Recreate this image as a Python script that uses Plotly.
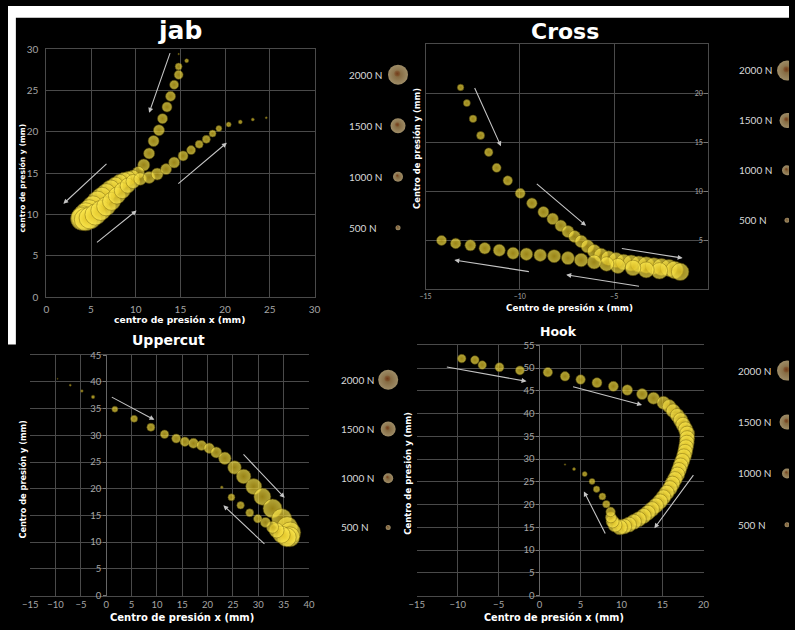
import plotly.graph_objects as go

W, H = 795, 630

# ---------------- data: centre of pressure (mm) and force (N) per sample ----------------
JAB_X = [14.8, 15.7, 14.8, 14.8, 14.3, 13.9, 13.5, 13.0, 12.6, 12.0, 11.5, 10.9, 10.3,
         9.7, 9.2, 8.7, 8.2, 7.7, 7.2, 6.7, 6.2, 5.7, 5.2, 4.8, 4.4, 4.1, 4.0,
         4.4, 4.9, 5.5, 6.1, 6.7, 7.3, 7.9, 8.5, 9.1, 9.7,
         10.5, 11.5, 12.4, 13.4, 14.3, 15.3, 16.2, 17.1, 17.9, 18.6, 19.3, 20.4, 21.7, 23.1, 24.6]
JAB_Y = [29.4, 28.6, 27.9, 26.9, 25.7, 24.3, 23.0, 21.6, 20.2, 18.9, 17.4, 16.0, 15.1,
         14.6, 14.4, 14.2, 13.9, 13.5, 13.1, 12.6, 12.1, 11.6, 11.0, 10.5, 10.1, 9.7, 9.5,
         9.4, 9.6, 10.0, 10.5, 11.0, 11.6, 12.3, 12.9, 13.5, 14.0,
         14.3, 14.5, 14.9, 15.5, 16.3, 17.1, 17.8, 18.5, 19.1, 19.8, 20.4, 20.9, 21.2, 21.5, 21.7]
JAB_F = [150, 400, 700, 900, 900, 1000, 1000, 1000, 1100, 1100, 1100, 1200, 1200,
         1300, 1400, 1500, 1600, 1700, 1800, 1900, 2000, 2050, 2100, 2150, 2200, 2250, 2300,
         2250, 2200, 2100, 2000, 1900, 1800, 1700, 1600, 1500, 1400,
         1250, 1200, 1200, 1100, 1100, 1000, 900, 800, 800, 700, 600, 500, 400, 300, 200]

CROSS_X = [-13.14, -12.81, -12.48, -12.08, -11.65, -11.23, -10.64, -9.98, -9.36, -8.75, -8.26,
           -7.83, -7.45, -7.10, -6.75, -6.41, -6.06,
           -5.7, -5.3, -4.9, -4.5, -4.1, -3.7, -3.3, -2.9, -2.5, -2.1, -1.8, -1.5,
           -2.6, -3.3, -4.0, -4.8, -5.4, -6.06, -6.75, -7.45, -8.18, -8.92, -9.65, -10.36,
           -11.09, -11.86, -12.62, -13.4, -14.15]
CROSS_Y = [20.6, 19.0, 17.4, 15.7, 14.0, 12.4, 11.1, 9.8, 8.8, 7.9, 7.2, 6.5, 5.9, 5.4, 4.9, 4.4, 3.9,
           3.5, 3.2, 3.0, 2.8, 2.7, 2.6, 2.5, 2.4, 2.3, 2.2, 2.0, 1.8,
           1.9, 2.0, 2.2, 2.4, 2.6, 2.8, 3.0, 3.2, 3.4, 3.5, 3.6, 3.7, 4.0, 4.2, 4.5, 4.7, 5.0]
CROSS_F = [650, 700, 750, 800, 850, 900, 950, 1000, 1050, 1100, 1150, 1150, 1200, 1200, 1250, 1300, 1350,
           1400, 1450, 1500, 1550, 1600, 1600, 1650, 1650, 1700, 1700, 1750, 1750,
           1650, 1600, 1550, 1500, 1450, 1400, 1350, 1300, 1300, 1250, 1250, 1200, 1200, 1150,
           1100, 1050, 1000]

UPPERCUT_X = [-9.6, -7.1, -4.8, -2.6, 1.7, 5.5, 8.8, 11.5, 13.8, 15.5, 17.2, 18.8, 20.3, 21.7, 23.4,
              25.3, 27.1, 29.1, 30.8, 32.8, 34.6, 35.7, 36.3, 36.2, 35.6, 34.6,
              33.6, 32.8, 31.4, 29.9, 28.3, 26.5, 24.7, 22.8]
UPPERCUT_Y = [40.6, 39.4, 38.3, 37.2, 34.9, 33.1, 31.5, 30.2, 29.4, 28.8, 28.5, 28.1, 27.6, 26.8, 25.7,
              24.0, 22.3, 20.4, 18.5, 16.3, 14.4, 12.8, 11.8, 11.0, 10.9, 11.4,
              12.2, 12.8, 13.7, 14.4, 15.5, 16.9, 18.4, 20.3]
UPPERCUT_F = [100, 200, 250, 350, 600, 700, 800, 850, 900, 950, 1000, 1000, 1050, 1100, 1250,
              1350, 1450, 1600, 1700, 1900, 2000, 2100, 2100, 2000, 1900, 1700,
              1500, 1200, 1000, 850, 800, 750, 700, 250]

HOOK_X = [-9.5, -7.9, -7.0, -4.9, -2.4, 1.0, 3.1, 5.0, 7.0, 9.0, 10.7, 12.5, 13.9, 15.1,
          15.8, 16.3, 16.8, 17.2, 17.5, 17.8, 18.0, 18.0, 17.95, 17.85, 17.75, 17.6, 17.4, 17.2,
          17.0, 16.8, 16.5, 16.2, 15.9, 15.5, 15.1, 14.7, 14.2, 13.7, 13.2, 12.7, 12.1, 11.5,
          10.9, 10.3, 9.8,
          9.2, 8.9, 8.7, 8.66, 8.14, 7.66, 6.95, 6.4, 5.5, 4.2, 3.1]
HOOK_Y = [52.1, 51.8, 50.7, 50.2, 49.5, 49.1, 48.2, 47.5, 46.8, 46.0, 45.2, 44.3, 43.4, 42.4,
          41.6, 40.6, 39.6, 38.6, 37.6, 36.6, 35.6, 34.6, 33.6, 32.6, 31.6, 30.6, 29.6, 28.6,
          27.6, 26.6, 25.6, 24.6, 23.6, 22.6, 21.6, 20.7, 19.8, 19.0, 18.2, 17.5, 16.8, 16.2,
          15.6, 15.2, 15.0,
          15.5, 16.3, 17.2, 18.4, 20.1, 21.8, 23.4, 25.1, 26.7, 27.8, 28.8]
HOOK_F = [850, 850, 850, 900, 900, 950, 950, 950, 1000, 1000, 1050, 1100, 1200, 1300,
          1350, 1400, 1400, 1450, 1450, 1450, 1500, 1500, 1500, 1500, 1500, 1500, 1500, 1500,
          1500, 1500, 1500, 1500, 1500, 1500, 1500, 1500, 1500, 1500, 1500, 1500, 1500, 1500,
          1500, 1500, 1500,
          1400, 1300, 1100, 950, 750, 700, 650, 600, 500, 300, 150]

LEGEND_FORCES = [2000, 1500, 1000, 500]
LEGEND_LABELS = ["2000 N", "1500 N", "1000 N", "500 N"]

PANEL_TITLES = ["jab", "Cross", "Uppercut", "Hook"]
X_TITLES = ["centro de presión x (mm)", "Centro de presión x (mm)",
            "Centro de presión x (mm)", "Centro de presión x (mm)"]
Y_TITLES = ["centro de presión y (mm)", "Centro de presión y (mm)",
            "Centro de presión y (mm)", "Centro de presión y (mm)"]

# direction arrows per panel: (tail, head) in data units
JAB_ARROWS = [((13.9, 29.7), (11.5, 22.3)), ((6.9, 16.3), (1.9, 11.3)),
              ((5.5, 6.5), (10.1, 10.5)), ((14.6, 13.6), (20.2, 18.7))]
CROSS_ARROWS = [((-12.43, 20.7), (-11.0, 14.6)), ((-9.18, 10.9), (-6.49, 6.5)),
                ((-4.67, 4.2), (-1.37, 3.2)), ((-9.44, 1.8), (-13.47, 3.0)),
                ((-3.6, 0.3), (-7.54, 1.5))]
UPPERCUT_ARROWS = [((0.8, 37.3), (9.5, 32.9)), ((26.8, 26.7), (35.2, 18.3)),
                   ((31.5, 9.4), (23.1, 16.9))]
HOOK_ARROWS = [((-11.5, 50.3), (-1.6, 47.1)), ((3.9, 46.0), (12.5, 41.9)),
               ((8.1, 13.3), (5.4, 22.9)), ((18.9, 26.8), (14.0, 14.8))]

# ---------------- styling ----------------
BG = "#000000"
GRID = "#4a4a4a"
TICK = "#a6a6a6"
ARROW = "#c4c4c4"
SPHERE_RIM = "#ffec52"
SPHERE_CORE = "#dcbc20"
SPHERE_EDGE = "#6e5c08"
TITLE_FONT = "DejaVu Sans"
TEXT_FONT = "Lato"


def force_to_px(f):
    # bubble diameter in pixels proportional to force
    return f / 100.0


def px_x(v):
    return v / W


def px_y(v):
    return 1 - v / H


def dom_x(a, b):
    return [px_x(a), px_x(b)]


def dom_y(top, bottom):
    return [px_y(bottom), px_y(top)]


def bubbles(xs, ys, forces, xa, ya):
    return go.Scatter(
        x=xs, y=ys, mode="markers", xaxis=xa, yaxis=ya,
        showlegend=False, hoverinfo="skip", cliponaxis=False,
        marker=dict(size=[force_to_px(f) for f in forces], sizemode="diameter",
                    color=SPHERE_RIM,
                    gradient=dict(type="radial", color=SPHERE_CORE),
                    line=dict(color=SPHERE_EDGE, width=0.6)),
    )


fig = go.Figure()

# white page border along the top edge and the upper part of the left edge
# (page-pixel frame on the full-page overlay axes)
BORDER_TOP = 12
BORDER_LEFT = 8
BORDER_LEFT_BOTTOM = 345
fig.add_trace(go.Scatter(
    x=[0, W, W, BORDER_LEFT, BORDER_LEFT, 0, 0],
    y=[0, 0, BORDER_TOP, BORDER_TOP, BORDER_LEFT_BOTTOM, BORDER_LEFT_BOTTOM, 0],
    mode="lines", fill="toself", fillcolor="white", line=dict(width=0, color="white"),
    xaxis="x5", yaxis="y5", showlegend=False, hoverinfo="skip",
))

fig.add_trace(bubbles(JAB_X, JAB_Y, JAB_F, "x", "y"))
fig.add_trace(bubbles(CROSS_X, CROSS_Y, CROSS_F, "x2", "y2"))
fig.add_trace(bubbles(UPPERCUT_X, UPPERCUT_Y, UPPERCUT_F, "x3", "y3"))
fig.add_trace(bubbles(HOOK_X, HOOK_Y, HOOK_F, "x4", "y4"))

# force-scale keys (label x, swatch x, first row y, row gap) in page pixels
LEGEND_BLOCKS = [(345, 397, 70, 52.0), (742, 793, 65.7, 50.9),
                 (337, 387, 381, 50.2), (741, 793, 371.7, 52.4)]
annotations = []
for lx, cx, y0, gap in LEGEND_BLOCKS:
    ys = [y0 + i * gap for i in range(len(LEGEND_FORCES))]
    sizes = [force_to_px(f) for f in LEGEND_FORCES]
    fig.add_trace(go.Scatter(
        x=[cx] * len(LEGEND_FORCES), y=ys, mode="markers", xaxis="x5", yaxis="y5",
        showlegend=False, hoverinfo="skip",
        marker=dict(size=sizes, sizemode="diameter",
                    color="#e2c994", gradient=dict(type="radial", color="#b48a4e"),
                    line=dict(width=0)),
    ))
    fig.add_trace(go.Scatter(
        x=[cx - 0.8] * len(LEGEND_FORCES), y=[v - 1.2 for v in ys], mode="markers",
        xaxis="x5", yaxis="y5", showlegend=False, hoverinfo="skip",
        marker=dict(size=[s * 0.3 for s in sizes], sizemode="diameter",
                    color="rgba(120,50,15,0.35)", gradient=dict(type="radial", color="#6a2a0c"),
                    line=dict(width=0)),
    ))
    for lab, yy in zip(LEGEND_LABELS, ys):
        annotations.append(dict(text=lab, x=px_x(lx), y=px_y(yy), xref="paper", yref="paper",
                                xanchor="left", yanchor="middle", showarrow=False,
                                font=dict(family=TEXT_FONT, size=10, color="#d9d9d9")))


def axis(domain, rng, dtick, size, **kw):
    d = dict(domain=domain, range=rng, dtick=dtick, tick0=0, showgrid=True, gridcolor=GRID,
             gridwidth=1, zeroline=False, showline=False, ticks="",
             tickfont=dict(family=TEXT_FONT, size=size, color=TICK))
    d.update(kw)
    return d


FRAME = dict(showline=True, mirror=True, linecolor=GRID, linewidth=1)

layout = dict(
    width=W, height=H, autosize=False,
    margin=dict(l=0, r=0, t=0, b=0),
    paper_bgcolor=BG, plot_bgcolor="rgba(0,0,0,0)",
    xaxis=axis(dom_x(39, 312), [0, 30], 5, 10, anchor="y", ticklabelstandoff=3, **FRAME),
    yaxis=axis(dom_y(44, 297), [0, 30], 5, 10, anchor="x", ticklabelstandoff=5, **FRAME),
    xaxis2=axis(dom_x(425, 713), [-15, 0], 5, 7, anchor="y2", **FRAME),
    yaxis2=axis(dom_y(39, 289), [0, 25], 5, 7, anchor="x2", side="right",
                ticklabelposition="inside", ticks="inside", ticklen=4, tickcolor="#777",
                **FRAME),
    xaxis3=axis(dom_x(22.6, 306.4), [-15, 40], 5, 9.5, anchor="y3", **FRAME),
    yaxis3=axis(dom_y(356, 601), [0, 45], 5, 9.5, anchor="free", position=px_x(100),
                showline=True, linecolor="#666", linewidth=1, ticks="outside",
                ticklen=3, tickcolor="#777"),
    xaxis4=axis(dom_x(416, 708), [-15, 20], 5, 9.5, anchor="y4", **FRAME),
    yaxis4=axis(dom_y(346, 601), [0, 55], 5, 9.5, anchor="free", position=px_x(541),
                showline=True, linecolor="#666", linewidth=1, ticks="outside",
                ticklen=3, tickcolor="#777"),
    xaxis5=dict(domain=[0, 1], range=[0, W], visible=False, anchor="y5", fixedrange=True),
    yaxis5=dict(domain=[0, 1], range=[H, 0], visible=False, anchor="x5", fixedrange=True),
)
fig.update_layout(**layout)

# panel titles
title_specs = [(175, 25, 25), (567, 26, 22), (163, 340, 14), (560, 332, 12.5)]
for text, (cx, cy, sz) in zip(PANEL_TITLES, title_specs):
    annotations.append(dict(text=text, x=px_x(cx), y=px_y(cy), xref="paper", yref="paper",
                            xanchor="center", yanchor="middle", showarrow=False,
                            font=dict(family=TITLE_FONT, size=sz, color="white", weight="bold")))

# axis titles
xt_specs = [(175, 320, 9.2), (572, 308, 8.8), (177, 623, 10), (556, 623, 9.7)]
yt_specs = [(15, 175, 7.6), (417, 145, 8.4), (15, 482, 8.2), (407, 476, 8.5)]
for text, (cx, cy, sz) in zip(X_TITLES, xt_specs):
    annotations.append(dict(text=text, x=px_x(cx), y=px_y(cy), xref="paper", yref="paper",
                            xanchor="center", yanchor="middle", showarrow=False,
                            font=dict(family=TITLE_FONT, size=sz, color="white", weight="bold")))
for text, (cx, cy, sz) in zip(Y_TITLES, yt_specs):
    annotations.append(dict(text=text, x=px_x(cx), y=px_y(cy), xref="paper", yref="paper",
                            xanchor="center", yanchor="middle", showarrow=False, textangle=-90,
                            font=dict(family=TITLE_FONT, size=sz, color="white", weight="bold")))

# motion arrows
for arrows, xa, ya in [(JAB_ARROWS, "x", "y"), (CROSS_ARROWS, "x2", "y2"),
                       (UPPERCUT_ARROWS, "x3", "y3"), (HOOK_ARROWS, "x4", "y4")]:
    for (tx, ty), (hx, hy) in arrows:
        annotations.append(dict(x=hx, y=hy, ax=tx, ay=ty, xref=xa, yref=ya, axref=xa, ayref=ya,
                                text="", showarrow=True, arrowhead=2, arrowsize=0.9,
                                arrowwidth=1.1, arrowcolor=ARROW, standoff=0))

fig.update_layout(annotations=annotations)
fig.write_html("out.html")
